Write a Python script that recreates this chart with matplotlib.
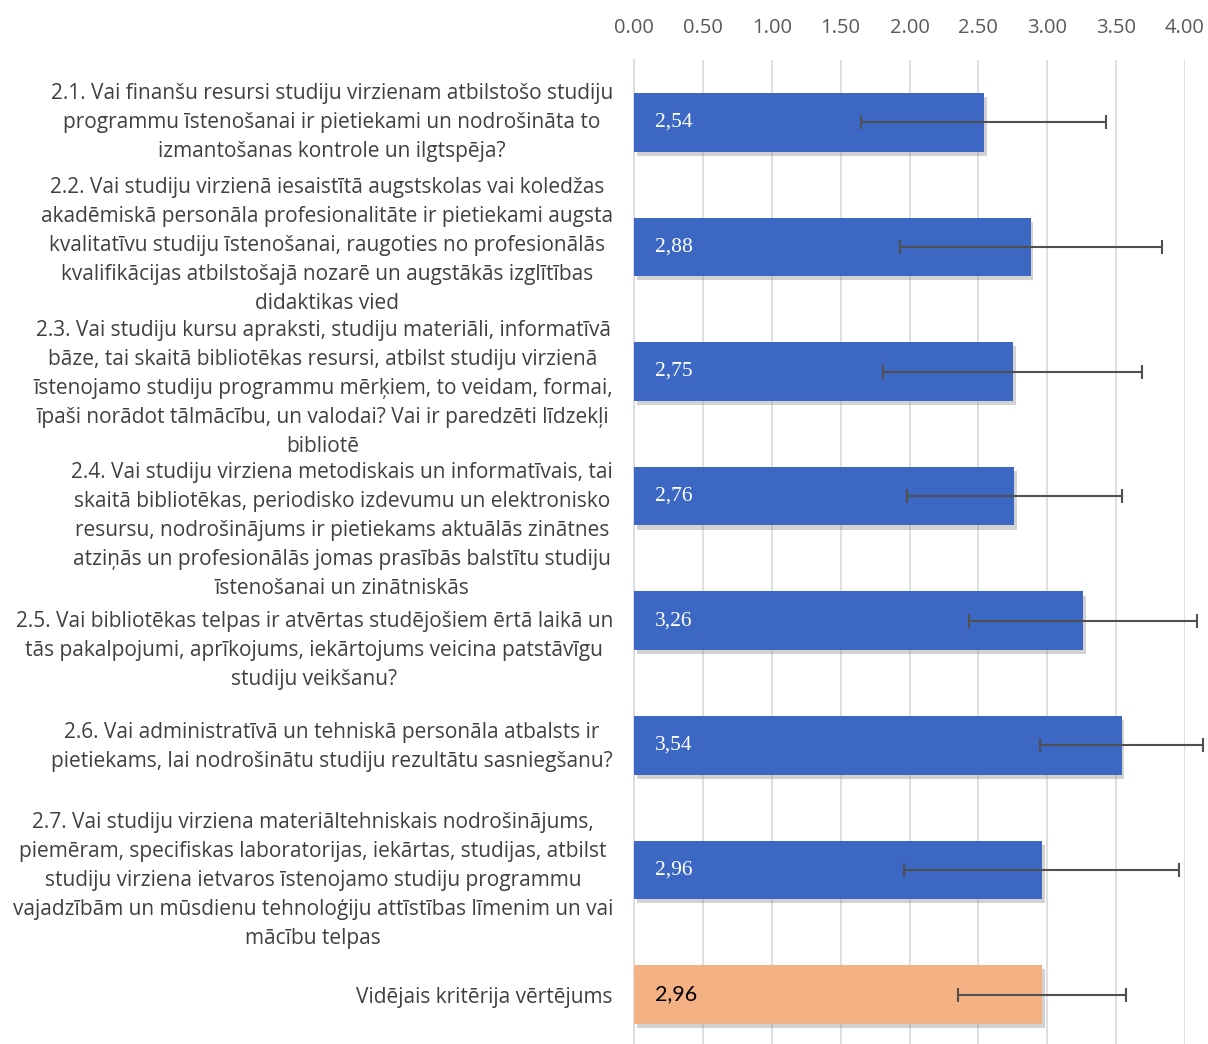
import matplotlib
matplotlib.use("Agg")
import matplotlib.pyplot as plt
import matplotlib.patheffects as pe
import matplotlib.transforms as mtrans
import numpy as np

# question labels (lines as in the chart)
labels = [
    "2.1. Vai finanšu resursi studiju virzienam atbilstošo studiju\n"
    "programmu īstenošanai ir pietiekami un nodrošināta to\n"
    "izmantošanas kontrole un ilgtspēja?",
    "2.2. Vai studiju virzienā iesaistītā augstskolas vai koledžas\n"
    "akadēmiskā personāla profesionalitāte ir pietiekami augsta\n"
    "kvalitatīvu studiju īstenošanai, raugoties no profesionālās\n"
    "kvalifikācijas atbilstošajā nozarē un augstākās izglītības\n"
    "didaktikas vied",
    "2.3. Vai studiju kursu apraksti, studiju materiāli, informatīvā\n"
    "bāze, tai skaitā bibliotēkas resursi, atbilst studiju virzienā\n"
    "īstenojamo studiju programmu mērķiem, to veidam, formai,\n"
    "īpaši norādot tālmācību, un valodai? Vai ir paredzēti līdzekļi\n"
    "bibliotē",
    "2.4. Vai studiju virziena metodiskais un informatīvais, tai\n"
    "skaitā bibliotēkas, periodisko izdevumu un elektronisko\n"
    "resursu, nodrošinājums ir pietiekams aktuālās zinātnes\n"
    "atziņās un profesionālās jomas prasībās balstītu studiju\n"
    "īstenošanai un zinātniskās",
    "2.5. Vai bibliotēkas telpas ir atvērtas studējošiem ērtā laikā un\n"
    "tās pakalpojumi, aprīkojums, iekārtojums veicina patstāvīgu\n"
    "studiju veikšanu?",
    "2.6. Vai administratīvā un tehniskā personāla atbalsts ir\n"
    "pietiekams, lai nodrošinātu studiju rezultātu sasniegšanu?",
    "2.7. Vai studiju virziena materiāltehniskais nodrošinājums,\n"
    "piemēram, specifiskas laboratorijas, iekārtas, studijas, atbilst\n"
    "studiju virziena ietvaros īstenojamo studiju programmu\n"
    "vajadzībām un mūsdienu tehnoloģiju attīstības līmenim un vai\n"
    "mācību telpas",
    "Vidējais kritērija vērtējums",
]
values = [2.54, 2.88, 2.75, 2.76, 3.26, 3.54, 2.96, 2.96]
errors = [0.89, 0.95, 0.94, 0.78, 0.83, 0.59, 1.00, 0.61]
value_text = ["2,54", "2,88", "2,75", "2,76", "3,26", "3,54", "2,96", "2,96"]
xticks = [0, 0.5, 1, 1.5, 2, 2.5, 3, 3.5, 4]

# excel nudged some long labels downward (pixels)
label_shift = [0, -1, 17, 34, 30, 2, 11, 3]

blue = "#3c68c4"
orange = "#f4b183"
colors = [blue] * 7 + [orange]

fig = plt.figure(figsize=(12.08, 10.44), dpi=100)
ax = fig.add_axes([634 / 1208, 0.0, (1185 - 634) / 1208, 1 - 60 / 1044])

y = np.arange(len(values))
bars = ax.barh(y, values, height=0.47, color=colors, zorder=3)
for b in bars:
    b.set_path_effects([pe.SimplePatchShadow(offset=(2, -3), shadow_rgbFace="#808080", alpha=0.35),
                        pe.Normal()])
eb = ax.errorbar(values, y, xerr=errors, fmt="none", ecolor="#505050",
                 elinewidth=1.5, capsize=5, capthick=1.5, zorder=4)
for art in eb.lines[1] + eb.lines[2]:
    art.set_clip_on(False)

for i, (v, t) in enumerate(zip(values, value_text)):
    if i < 7:
        ax.text(0.15, i, t, va="center", ha="left", color="white",
                fontsize=15.5, family="Liberation Serif", zorder=5)
    else:
        ax.text(0.15, i, t, va="center", ha="left", color="black",
                fontsize=15.5, family="Lato", zorder=5)

ax.set_xlim(0, 4)
ax.set_ylim(7.397, -0.5)
ax.set_xticks(xticks)
ax.set_xticklabels(["%.2f" % t for t in xticks])
ax.xaxis.tick_top()
ax.tick_params(axis="x", length=0, pad=16, labelsize=14.5, labelcolor="#595959")
for lab in ax.get_xticklabels():
    lab.set_family("Open Sans")

# category labels drawn as text so they can be nudged like in the original
ax.set_yticks(y)
ax.set_yticklabels([])
ax.tick_params(axis="y", length=0)
base = mtrans.blended_transform_factory(ax.transAxes, ax.transData)
for i, lab in enumerate(labels):
    tr = base + mtrans.ScaledTranslation(-0.21, -label_shift[i] / 100, fig.dpi_scale_trans)
    ax.text(0, i, lab, transform=tr, ha="right", va="center",
            multialignment="center", linespacing=1.5, fontsize=15,
            family="Open Sans", color="#404040")

ax.grid(axis="x", color="#d9d9d9", linewidth=1.2, zorder=0)
ax.set_axisbelow(True)
for s in ["top", "right", "bottom"]:
    ax.spines[s].set_visible(False)
ax.spines["left"].set_color("#d9d9d9")
ax.spines["left"].set_linewidth(1.2)

fig.savefig("out.png", dpi=100)
